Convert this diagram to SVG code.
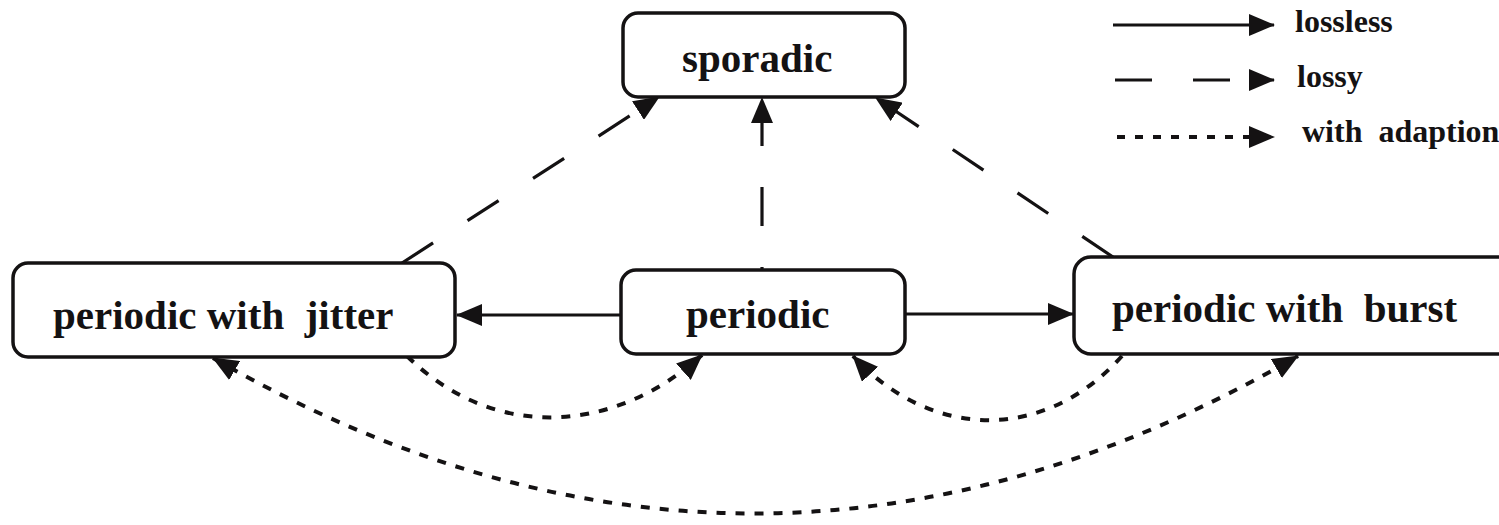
<svg xmlns="http://www.w3.org/2000/svg" width="1499" height="525" viewBox="0 0 1499 525">
<defs>
<style>
.box{fill:#fff;stroke:#141213;stroke-width:3.5}
.lbl{font-family:"Liberation Serif","Times New Roman",serif;font-weight:bold;font-size:41px;fill:#141213}
.leg{font-family:"Liberation Serif","Times New Roman",serif;font-weight:bold;font-size:32px;fill:#141213}
.c{fill:none;stroke:#141213;stroke-width:3.2}
.lossy{stroke-dasharray:37 41}
.dot{stroke-dasharray:9 10;stroke-width:4}
</style>
<marker id="ah" markerUnits="userSpaceOnUse" markerWidth="26" markerHeight="22" viewBox="0 0 26 22" refX="25" refY="11" orient="auto-start-reverse">
<path d="M0,0 L26,11 L0,22 z" fill="#141213"/>
</marker>
</defs>
<rect width="1499" height="525" fill="#fff"/>
<g id="connectors">
<path class="c" d="M621,315 H457" marker-end="url(#ah)"/>
<path class="c" d="M905,314 H1073" marker-end="url(#ah)"/>
<path class="c" d="M762,269 V98" style="stroke-dasharray:39 41;stroke-dashoffset:37" marker-end="url(#ah)"/>
<path class="c lossy" d="M402,263 L659,97" marker-end="url(#ah)"/>
<path class="c lossy" d="M1113,257 L876,98" marker-end="url(#ah)"/>
<path class="c dot" d="M407,356 C493,441 613,435 702,355" marker-end="url(#ah)"/>
<path class="c dot" d="M1122,356 C1045,442 932,441 853,356" marker-end="url(#ah)"/>
<path class="c dot" d="M213,358 Q755,670 1298,356" marker-start="url(#ah)" marker-end="url(#ah)"/>
</g>
<g id="node-sporadic">
<rect class="box" x="623" y="13" width="282" height="84" rx="15"/>
<text class="lbl" x="682" y="72">sporadic</text>
</g>
<g id="node-jitter">
<rect class="box" x="13" y="263" width="442" height="94" rx="15"/>
<text class="lbl" x="53" y="329" xml:space="preserve">periodic with  jitter</text>
</g>
<g id="node-periodic">
<rect class="box" x="621" y="270" width="284" height="84" rx="15"/>
<text class="lbl" x="686" y="328">periodic</text>
</g>
<g id="node-burst">
<rect class="box" x="1074" y="257" width="460" height="97" rx="17"/>
<text class="lbl" x="1112" y="322" xml:space="preserve">periodic with  burst</text>
</g>
<g id="legend">
<path class="c" d="M1113,25 H1274" marker-end="url(#ah)"/>
<path class="c lossy" d="M1115,80 H1274" marker-end="url(#ah)"/>
<path class="c" style="stroke-dasharray:8 10;stroke-width:3.8" d="M1117,137 H1274" marker-end="url(#ah)"/>
<text class="leg" x="1295" y="32">lossless</text>
<text class="leg" x="1297" y="87">lossy</text>
<text class="leg" x="1302" y="142" xml:space="preserve">with  adaption</text>
</g>
</svg>
